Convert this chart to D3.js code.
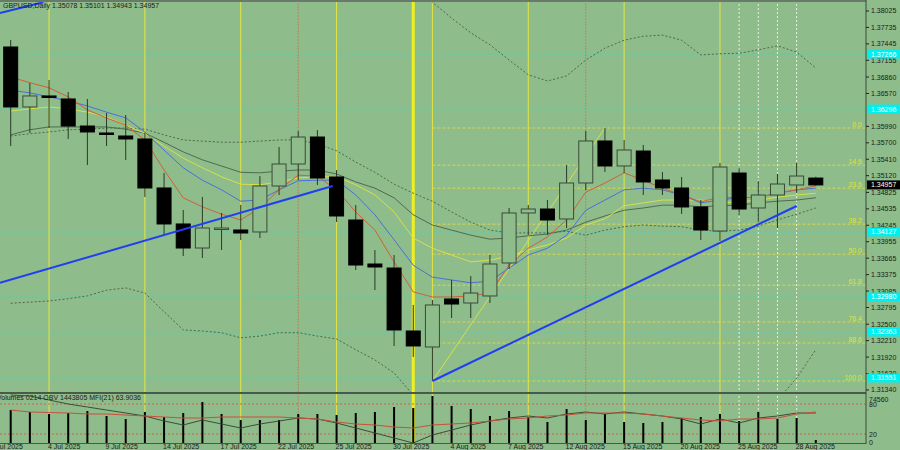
<!DOCTYPE html>
<html><head><meta charset="utf-8">
<script src="https://cdn.jsdelivr.net/npm/d3@7"></script>
<style>body{margin:0;background:#8fbc8b}svg{display:block}text{font-family:"Liberation Sans",Arial,sans-serif}</style>
</head><body><svg id="c" width="900" height="450"></svg>
<script>
const opens=[1.37390,1.36332,1.36526,1.36473,1.35996,1.35873,1.35820,1.35767,1.34903,1.34268,1.33844,1.34179,1.34162,1.34127,1.34938,1.35326,1.35802,1.35097,1.34338,1.33562,1.33491,1.32380,1.32098,1.32945,1.32874,1.32998,1.33580,1.34462,1.34532,1.34356,1.34991,1.35732,1.35291,1.35555,1.35044,1.34903,1.34568,1.34144,1.35167,1.34550,1.34779,1.34956,1.35078];
const highs=[1.37513,1.36755,1.36808,1.36596,1.36473,1.36226,1.36190,1.35873,1.35167,1.34515,1.34744,1.34462,1.34603,1.35114,1.35626,1.35908,1.35926,1.35220,1.34603,1.33809,1.33721,1.32839,1.32927,1.33280,1.33350,1.33721,1.34550,1.34603,1.34691,1.35308,1.35908,1.35961,1.35749,1.35661,1.35185,1.35097,1.34691,1.35344,1.35255,1.35026,1.35150,1.35344,1.35101];
const lows=[1.35644,1.35873,1.35961,1.35767,1.35308,1.35644,1.35397,1.34744,1.34074,1.33703,1.33668,1.33809,1.33985,1.34021,1.34779,1.35044,1.34956,1.34303,1.33456,1.33103,1.32116,1.31922,1.31498,1.32609,1.32609,1.32874,1.33474,1.34074,1.34074,1.34197,1.34867,1.35185,1.35167,1.34779,1.34779,1.34444,1.33985,1.33968,1.34426,1.34303,1.34197,1.34814,1.34943];
const closes=[1.36332,1.36526,1.36508,1.35996,1.35891,1.35855,1.35767,1.34903,1.34268,1.33844,1.34197,1.34197,1.34109,1.34938,1.35326,1.35802,1.35079,1.34409,1.33544,1.33509,1.32398,1.32116,1.32839,1.32856,1.33050,1.33562,1.34462,1.34532,1.34338,1.34991,1.35732,1.35291,1.35573,1.35009,1.34903,1.34568,1.34162,1.35273,1.34532,1.34779,1.34973,1.35114,1.34957];
const volumes=[52300,49200,46000,47600,50800,42800,38100,49200,41200,47600,65000,46000,36500,36500,36500,46000,46000,44400,47600,49200,57100,55500,74560,58700,53900,42800,50800,41200,33300,53900,36500,46000,33300,31700,33300,39700,41200,46000,34900,49200,38100,39700,4800];
const maRed=[1.3686,1.3676,1.3667,1.3651,1.3628,1.3614,1.3601,1.3575,1.3522,1.3473,1.3457,1.3444,1.3434,1.3455,1.3487,1.3513,1.3511,1.3487,1.3448,1.3416,1.3360,1.3307,1.3298,1.3298,1.3300,1.3305,1.3354,1.3384,1.3404,1.3434,1.3483,1.3499,1.3517,1.3504,1.3490,1.3478,1.3466,1.3474,1.3473,1.3474,1.3481,1.3487,1.3494];
const maBlue=[1.3663,1.3658,1.3651,1.3644,1.3635,1.3624,1.3614,1.3589,1.3557,1.3526,1.3504,1.3487,1.3467,1.3469,1.3487,1.3503,1.3504,1.3504,1.3478,1.3443,1.3399,1.3354,1.3333,1.3328,1.3323,1.3326,1.3349,1.3372,1.3384,1.3407,1.3451,1.3469,1.3487,1.3490,1.3487,1.3478,1.3464,1.3469,1.3473,1.3474,1.3481,1.3487,1.3490];
const maYellow=[1.3626,1.3630,1.3633,1.3630,1.3624,1.3616,1.3601,1.3587,1.3564,1.3543,1.3526,1.3510,1.3497,1.3496,1.3501,1.3508,1.3510,1.3510,1.3496,1.3478,1.3448,1.3402,1.3384,1.3372,1.3360,1.3363,1.3370,1.3381,1.3390,1.3402,1.3425,1.3436,1.3459,1.3464,1.3469,1.3469,1.3469,1.3464,1.3466,1.3469,1.3474,1.3478,1.3481];
const maGray=[1.3584,1.3593,1.3598,1.3598,1.3598,1.3598,1.3594,1.3587,1.3571,1.3554,1.3540,1.3529,1.3518,1.3517,1.3520,1.3522,1.3522,1.3515,1.3501,1.3490,1.3473,1.3443,1.3425,1.3416,1.3407,1.3400,1.3402,1.3406,1.3409,1.3416,1.3430,1.3441,1.3451,1.3455,1.3460,1.3460,1.3457,1.3459,1.3460,1.3464,1.3467,1.3469,1.3473];
const bandMid=[1.3582,1.3586,1.3589,1.3593,1.3594,1.3596,1.3596,1.3594,1.3584,1.3575,1.3573,1.3571,1.3571,1.3573,1.3575,1.3575,1.3568,1.3556,1.3536,1.3518,1.3497,1.3481,1.3467,1.3448,1.3430,1.3416,1.3411,1.3411,1.3411,1.3414,1.3407,1.3416,1.3422,1.3425,1.3423,1.3422,1.3416,1.3414,1.3416,1.3423,1.3434,1.3444,1.3455];
const bandUpper=[null,null,null,null,null,null,null,null,null,null,null,null,null,null,null,null,null,null,null,null,null,1.3848,1.3818,1.3790,1.3764,1.3743,1.3716,1.3690,1.3679,1.3688,1.3716,1.3737,1.3751,1.3758,1.3760,1.3751,1.3725,1.3727,1.3728,1.3734,1.3741,1.3730,1.3702];
const bandLower=[1.3287,1.3289,1.3291,1.3295,1.3300,1.3310,1.3314,1.3305,1.3272,1.3240,1.3238,1.3235,1.3226,1.3229,1.3235,1.3235,1.3229,1.3224,1.3205,1.3187,1.3164,1.3125,null,null,null,null,null,null,null,null,null,null,null,null,null,null,null,null,null,null,1.3116,1.3155,1.3205];
const mfi=[68,64,63,62,60,60,58,56,54,52,52,54,54,54,54,52,50,44,40,38,34,32,38,40,42,46,50,52,56,58,62,62,62,60,56,52,48,46,50,50,52,60,64];
const obv=[1533805,1528805,1508805,1488805,1473805,1458805,1443805,1428805,1403805,1383805,1408805,1388805,1368805,1388805,1403805,1418805,1413805,1393805,1368805,1343805,1318805,1293805,1333805,1358805,1383805,1403805,1418805,1428805,1418805,1438805,1448805,1438805,1448805,1438805,1428805,1413805,1388805,1413805,1393805,1418805,1428805,1443805,1443805];
const priceTicks=[1.38025,1.37735,1.37445,1.37155,1.36860,1.36570,1.35990,1.35700,1.35410,1.35120,1.34825,1.34535,1.34245,1.33955,1.33665,1.33375,1.33085,1.32795,1.32500,1.32210,1.31920,1.31630,1.31340];
const levelPrices=[1.37266,1.36296,1.34127,1.32980,1.32363,1.31551];
const fibLabels=["0.0","14.6","23.6","38.2","50.0","61.8","76.4","88.6","100.0"];
const fibPrices=[1.35961,1.35306,1.34900,1.34265,1.33735,1.33188,1.32539,1.32168,1.31498];
const dateIdx=[-1,2,5,8,11,14,17,20,23,26,29,32,35,38,41];
const dateLabels=["1 Jul 2025","4 Jul 2025","9 Jul 2025","14 Jul 2025","17 Jul 2025","22 Jul 2025","25 Jul 2025","30 Jul 2025","4 Aug 2025","7 Aug 2025","12 Aug 2025","15 Aug 2025","20 Aug 2025","25 Aug 2025","28 Aug 2025"];
const yellowV=[2,7,12,17,22,27,32,37], brownV=[15,30], whiteV=[38,39,40,41];
const trendLines=[[[-0.56,1.3323],[16.8,1.34938]],[[22,1.31498],[41,1.34585]],[[-0.56,1.3799],[1.7,1.3818]]];

const svg=d3.select("#c");
const R=866, PB=392, FS=7;
const x=d3.scaleLinear().domain([0,42]).range([10.7,815.8]);
const y=d3.scaleLinear().domain([1.31304,1.38219]).range([PB,0]);
const yv=d3.scaleLinear().domain([0,74560]).range([443,396]);
const ym=d3.scaleLinear().domain([0,100]).range([444,394]);
const yo=d3.scaleLinear().domain([1293805,1533805]).range([443,395]);
svg.append("rect").attr("width",900).attr("height",450).attr("fill","#8fbc8b");
const defs=svg.append("defs");
defs.append("clipPath").attr("id","cm").append("rect").attr("width",R).attr("height",PB);
defs.append("clipPath").attr("id","cp").append("rect").attr("y",PB).attr("width",R).attr("height",52);
const g=svg.append("g").attr("clip-path","url(#cm)");
const gp=svg.append("g").attr("clip-path","url(#cp)");
levelPrices.forEach(p=>g.append("line").attr("x1",0).attr("x2",R).attr("y1",y(p)).attr("y2",y(p)).attr("stroke","#3fd6c0").attr("stroke-dasharray","2,2"));
fibPrices.forEach((p,i)=>{g.append("line").attr("x1",x(22)).attr("x2",R).attr("y1",y(p)).attr("y2",y(p)).attr("stroke","#d8d848").attr("stroke-dasharray","3,2");
 g.append("text").attr("x",862).attr("y",y(p)-1).attr("text-anchor","end").attr("font-size",FS).attr("fill","#e0e040").text(fibLabels[i]);});
[gp,g].forEach(G=>{
yellowV.forEach(i=>G.append("line").attr("x1",x(i)).attr("x2",x(i)).attr("y1",0).attr("y2",443).attr("stroke","#e4e640"));
brownV.forEach(i=>G.append("line").attr("x1",x(i)).attr("x2",x(i)).attr("y1",0).attr("y2",443).attr("stroke","#b08a60").attr("stroke-dasharray","2,1"));
whiteV.forEach(i=>G.append("line").attr("x1",x(i)).attr("x2",x(i)).attr("y1",0).attr("y2",443).attr("stroke","#e8f0e0").attr("stroke-dasharray","2,2"));
G.append("line").attr("x1",x(21)).attr("x2",x(21)).attr("y1",0).attr("y2",443).attr("stroke","#f0f020").attr("stroke-width",3);
});
g.append("line").attr("x1",x(22)).attr("y1",y(lows[22])).attr("x2",x(31)).attr("y2",y(highs[31])).attr("stroke","#d8e048");
const line=arr=>d3.line().defined(d=>d!=null).x((d,i)=>x(i)).y(d=>y(d))(arr);
[bandMid,bandUpper,bandLower].forEach(a=>g.append("path").attr("d",line(a)).attr("fill","none").attr("stroke","#4a6a4a").attr("stroke-dasharray","2,2"));
[[maGray,"#4f6b4f"],[maYellow,"#d8e048"],[maBlue,"#4a70d8"],[maRed,"#d0603a"]].forEach(([a,c])=>g.append("path").attr("d",line(a)).attr("fill","none").attr("stroke",c).attr("stroke-width",1));
const bw=14;
opens.forEach((o,i)=>{const c=closes[i],up=c>=o;
 g.append("line").attr("x1",x(i)).attr("x2",x(i)).attr("y1",y(highs[i])).attr("y2",y(lows[i])).attr("stroke","#2a3a2a");
 const t=y(Math.max(o,c)),b=y(Math.min(o,c));
 g.append("rect").attr("x",x(i)-bw/2).attr("y",t).attr("width",bw).attr("height",Math.max(1.5,b-t)).attr("fill",up?"#8fbc8b":"#000").attr("stroke",up?"#3a4a3a":"#000");});
trendLines.forEach(t=>g.append("line").attr("x1",x(t[0][0])).attr("y1",y(t[0][1])).attr("x2",x(t[1][0])).attr("y2",y(t[1][1])).attr("stroke","#1f3ff0").attr("stroke-width",2));
[80,20].forEach(v=>gp.append("line").attr("x1",0).attr("x2",R).attr("y1",ym(v)).attr("y2",ym(v)).attr("stroke","#d06050").attr("stroke-dasharray","2,2"));
volumes.forEach((v,i)=>gp.append("line").attr("x1",x(i)).attr("x2",x(i)).attr("y1",yv(0)).attr("y2",yv(v)).attr("stroke","#000").attr("stroke-width",2));
gp.append("path").attr("d",d3.line().x((d,i)=>x(i)).y(d=>yo(d))(obv)).attr("fill","none").attr("stroke","#3a4e3a");
gp.append("path").attr("d",d3.line().x((d,i)=>x(i)).y(d=>ym(d))(mfi)).attr("fill","none").attr("stroke","#c8503a");
svg.append("line").attr("x1",0).attr("x2",R).attr("y1",1).attr("y2",1).attr("stroke","#6a7a6a").attr("stroke-width",2);
svg.append("line").attr("x1",0).attr("x2",R).attr("y1",PB+1).attr("y2",PB+1).attr("stroke","#4a5a4a").attr("stroke-width",2);
svg.append("line").attr("x1",0).attr("x2",R).attr("y1",443.5).attr("y2",443.5).attr("stroke","#4a5a4a");
svg.append("line").attr("x1",R).attr("x2",R).attr("y1",0).attr("y2",444).attr("stroke","#3a4a3a");
priceTicks.forEach(p=>{svg.append("line").attr("x1",R).attr("x2",R+3).attr("y1",y(p)).attr("y2",y(p)).attr("stroke","#222");
 svg.append("text").attr("x",871).attr("y",y(p)+2.5).attr("font-size",FS).attr("fill","#1a1a1a").text(p.toFixed(5));});
levelPrices.forEach(p=>{svg.append("rect").attr("x",R+1).attr("y",y(p)-4.5).attr("width",33).attr("height",9).attr("fill","#00f0f0");
 svg.append("text").attr("x",871).attr("y",y(p)+2.5).attr("font-size",FS).attr("fill","#fff").text(p.toFixed(5));});
const lc=closes[42];
svg.append("rect").attr("x",R+1).attr("y",y(lc)-4.5).attr("width",33).attr("height",9).attr("fill","#000");
svg.append("text").attr("x",871).attr("y",y(lc)+2.5).attr("font-size",FS).attr("fill","#fff").text(lc.toFixed(5));
[["74560",399],["80",ym(80)],["20",ym(20)],["0",ym(0)-2]].forEach(([t,yy])=>svg.append("text").attr("x",869).attr("y",yy+3).attr("font-size",FS).attr("fill","#1a1a1a").text(t));
dateIdx.forEach((d,i)=>svg.append("text").attr("x",x(d)-1).attr("y",449).attr("font-size",FS).attr("fill","#1a1a1a").text(dateLabels[i]));
svg.append("text").attr("x",3).attr("y",8).attr("font-size",FS).attr("fill","#1a1a1a").text("GBPUSD,Daily  1.35078 1.35101 1.34943 1.34957");
svg.append("text").attr("x",-3).attr("y",400).attr("font-size",FS).attr("fill","#1a1a1a").text("Volumes 0214  OBV 1443805  MFI(21) 63.9036");
</script></body></html>
